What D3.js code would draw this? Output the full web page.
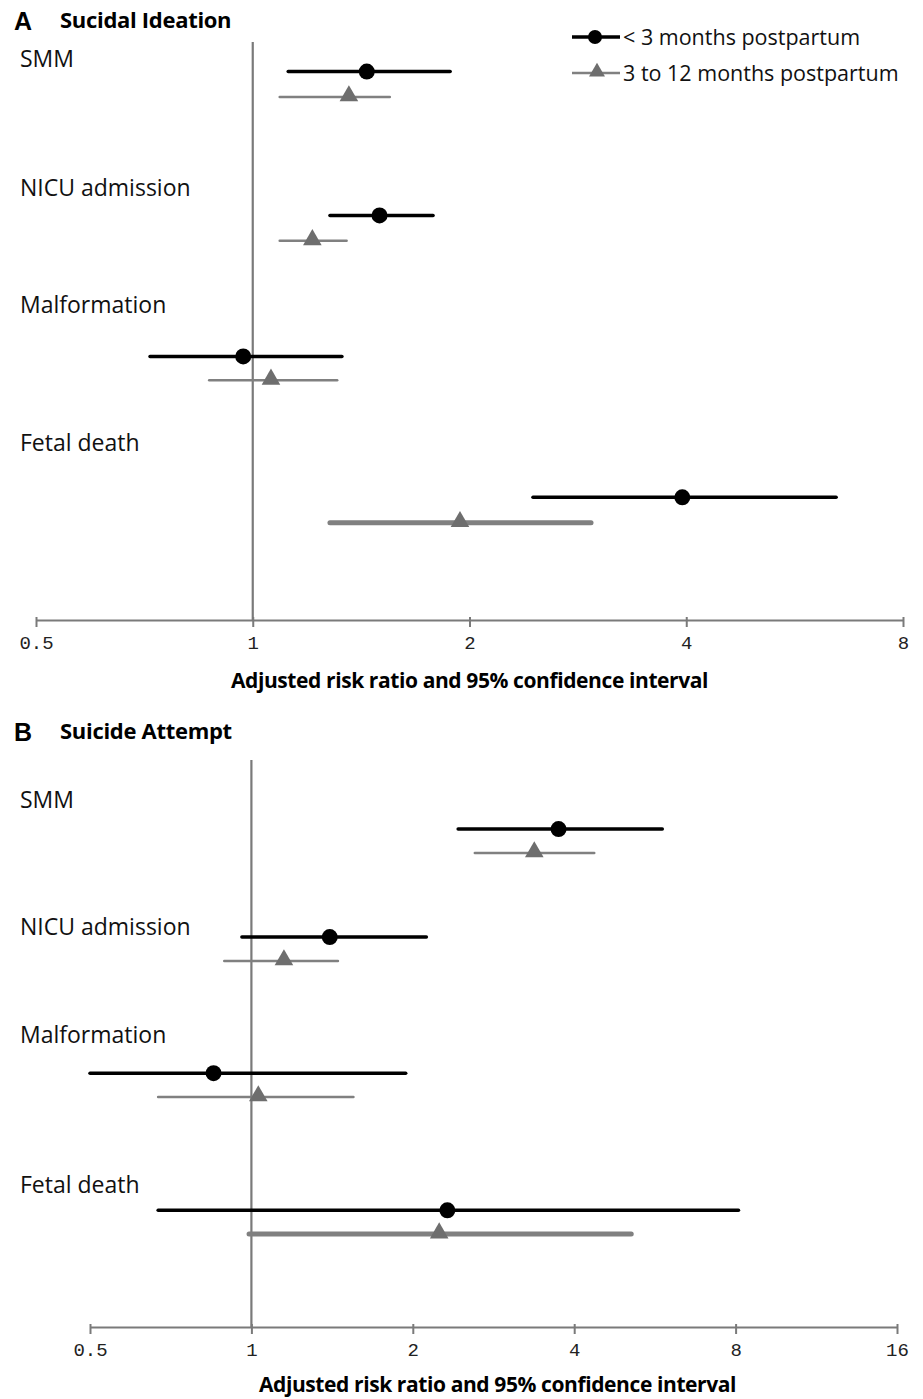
<!DOCTYPE html>
<html>
<head>
<meta charset="utf-8">
<script src="https://cdn.jsdelivr.net/npm/d3@7"></script>
<style>
  body { margin: 0; background: #fff; }
  svg { display: block; }
</style>
</head>
<body>
<div id="chart"></div>
<script>
// categories (same in both panels)
const categories = ['SMM', 'NICU admission', 'Malformation', 'Fetal death'];
const seriesNames = ['< 3 months postpartum', '3 to 12 months postpartum'];

// panel A: suicidal ideation, [estimate, lower, upper]
const ideationEarly = [[1.44, 1.12, 1.88], [1.50, 1.28, 1.78], [0.97, 0.72, 1.33], [3.95, 2.45, 6.46]];
const ideationLate = [[1.36, 1.09, 1.55], [1.21, 1.09, 1.35], [1.06, 0.87, 1.31], [1.94, 1.28, 2.95]];
// y values of the scatter rows (Excel style) and of the label boxes
const ideationRowsEarly = [3.89, 2.87, 1.87, 0.87];
const ideationRowsLate = [3.71, 2.69, 1.7, 0.69];
const ideationLabelRows = [3.92, 3.01, 2.18, 1.2];
const ideationTicks = [0.5, 1, 2, 4, 8];

// panel B: suicide attempt
const attemptEarly = [[3.74, 2.43, 5.84], [1.40, 0.96, 2.12], [0.85, 0.50, 1.94], [2.32, 0.67, 8.10]];
const attemptLate = [[3.37, 2.61, 4.36], [1.15, 0.89, 1.45], [1.03, 0.67, 1.55], [2.24, 0.99, 5.11]];
const attemptRowsEarly = [4.61, 3.61, 2.35, 1.08];
const attemptRowsLate = [4.39, 3.39, 2.13, 0.86];
const attemptLabelRows = [4.81, 3.63, 2.63, 1.24];
const attemptTicks = [0.5, 1, 2, 4, 8, 16];

const W = 923, H = 1399;
const svg = d3.select('#chart').append('svg').attr('width', W).attr('height', H);

const labelFont = '"Open Sans", sans-serif';
const grey = '#7a7a7a';

function drawPanel(opt) {
  const x = d3.scaleLog().base(2).domain(opt.xDomain).range(opt.xRange);
  const y = d3.scaleLinear().domain([0, opt.yMax]).range(opt.yRange);
  const g = svg.append('g');

  // panel letter + title
  g.append('text').attr('x', 14).attr('y', opt.titleY + 2)
    .attr('font-family', 'Liberation Sans, Arial, sans-serif').attr('font-weight', 'bold')
    .attr('font-size', 25).text(opt.letter);
  g.append('text').attr('x', 60).attr('y', opt.titleY)
    .attr('font-family', labelFont).attr('font-weight', 'bold')
    .attr('font-size', 22).attr('letter-spacing', -0.3).text(opt.title);

  // reference line at 1
  g.append('line')
    .attr('x1', x(1)).attr('x2', x(1))
    .attr('y1', y(opt.yMax)).attr('y2', y(0))
    .attr('stroke', grey).attr('stroke-width', 2.2);

  // x axis
  const axis = g.append('g')
    .attr('transform', `translate(0,${y(0)})`)
    .call(d3.axisBottom(x).tickValues(opt.ticks).tickSizeOuter(0).tickSizeInner(7)
      .tickPadding(9).tickFormat(d => d === 0.5 ? '0.5' : d));
  axis.select('.domain').attr('stroke', grey).attr('stroke-width', 2);
  axis.selectAll('.tick line').attr('stroke', grey).attr('stroke-width', 2).attr('y1', -3);
  axis.selectAll('.tick text')
    .attr('font-family', '"Liberation Mono", "DejaVu Sans Mono", monospace')
    .attr('font-size', 19).attr('fill', '#222');

  g.append('text')
    .attr('x', (opt.xRange[0] + opt.xRange[1]) / 2 + opt.axisTitleShift).attr('y', y(0) + opt.axisTitleGap)
    .attr('text-anchor', 'middle')
    .attr('font-family', labelFont).attr('font-weight', 'bold')
    .attr('font-size', 21).attr('letter-spacing', -0.4)
    .text('Adjusted risk ratio and 95% confidence interval');

  // category labels
  g.selectAll('text.cat').data(categories).enter().append('text')
    .attr('class', 'cat')
    .attr('x', 20)
    .attr('y', (d, i) => y(opt.labelRows[i]))
    .attr('font-family', labelFont).attr('font-size', 23).attr('fill', '#111')
    .text(d => d);

  const early = opt.early.map((d, i) => ({ est: d[0], lo: d[1], hi: d[2], row: opt.rowsEarly[i], cat: categories[i] }));
  const late = opt.late.map((d, i) => ({ est: d[0], lo: d[1], hi: d[2], row: opt.rowsLate[i], cat: categories[i] }));

  // late series: grey line + triangle
  g.selectAll('line.ci-late').data(late).enter().append('line')
    .attr('class', 'ci-late')
    .attr('x1', d => x(d.lo)).attr('x2', d => x(d.hi))
    .attr('y1', d => y(d.row)).attr('y2', d => y(d.row))
    .attr('stroke', '#808080')
    .attr('stroke-width', d => d.cat === 'Fetal death' ? 5 : 2.5)
    .attr('stroke-linecap', 'round');

  g.selectAll('path.tri').data(late).enter().append('path')
    .attr('class', 'tri')
    .attr('d', d3.symbol(d3.symbolTriangle, 150))
    .attr('transform', d => `translate(${x(d.est)},${y(d.row) - 1})`)
    .attr('fill', '#6e6e6e');

  // early series: black line + circle
  g.selectAll('line.ci-early').data(early).enter().append('line')
    .attr('class', 'ci-early')
    .attr('x1', d => x(d.lo)).attr('x2', d => x(d.hi))
    .attr('y1', d => y(d.row)).attr('y2', d => y(d.row))
    .attr('stroke', '#000').attr('stroke-width', 3.5)
    .attr('stroke-linecap', 'round');

  g.selectAll('circle.pt').data(early).enter().append('circle')
    .attr('class', 'pt')
    .attr('cx', d => x(d.est)).attr('cy', d => y(d.row))
    .attr('r', 8).attr('fill', '#000');
}

drawPanel({
  letter: 'A', title: 'Sucidal Ideation', titleY: 28,
  xDomain: [0.5, 8], xRange: [36, 903], yMax: 4.1, yRange: [620, 42],
  ticks: ideationTicks, early: ideationEarly, late: ideationLate,
  rowsEarly: ideationRowsEarly, rowsLate: ideationRowsLate, labelRows: ideationLabelRows,
  axisTitleShift: 0, axisTitleGap: 68
});

drawPanel({
  letter: 'B', title: 'Suicide Attempt', titleY: 739,
  xDomain: [0.5, 16], xRange: [90, 897], yMax: 5.25, yRange: [1327, 760],
  ticks: attemptTicks, early: attemptEarly, late: attemptLate,
  rowsEarly: attemptRowsEarly, rowsLate: attemptRowsLate, labelRows: attemptLabelRows,
  axisTitleShift: 4, axisTitleGap: 65
});

// legend
const legend = svg.append('g');
const legendRows = [
  { name: seriesNames[0], y: 37, color: '#000', width: 3.5 },
  { name: seriesNames[1], y: 73, color: '#808080', width: 2.5 }
];
legend.selectAll('line').data(legendRows).enter().append('line')
  .attr('x1', 572).attr('x2', 620)
  .attr('y1', d => d.y).attr('y2', d => d.y)
  .attr('stroke', d => d.color).attr('stroke-width', d => d.width);
legend.append('circle').attr('cx', 595).attr('cy', legendRows[0].y).attr('r', 7).attr('fill', '#000');
legend.append('path').attr('d', d3.symbol(d3.symbolTriangle, 110))
  .attr('transform', `translate(597,${legendRows[1].y - 1})`).attr('fill', '#6e6e6e');
legend.selectAll('text').data(legendRows).enter().append('text')
  .attr('x', 623).attr('y', d => d.y + 8)
  .attr('font-family', labelFont).attr('font-size', 21.5).attr('fill', '#111')
  .text(d => d.name);
</script>
</body>
</html>
